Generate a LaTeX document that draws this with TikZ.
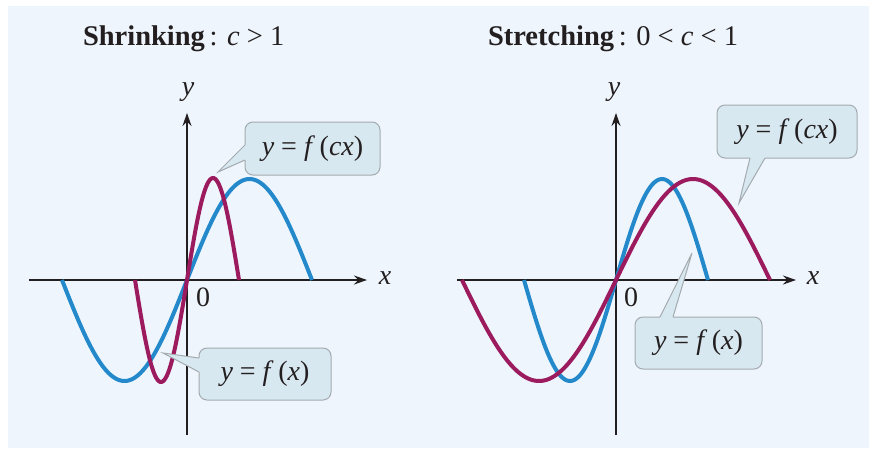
\documentclass[tikz,border=0pt]{standalone}
\usepackage{fontspec}
\setmainfont{Liberation Serif}
\usetikzlibrary{arrows.meta,calc}
\definecolor{bgc}{HTML}{EEF5FC}
\definecolor{cblue}{HTML}{2389CB}
\definecolor{cpurp}{HTML}{9C1A5E}
\definecolor{calfill}{HTML}{D8E8F0}
\definecolor{calline}{HTML}{A3ABAF}
\definecolor{axc}{HTML}{231F20}
\begin{document}
\begin{tikzpicture}[x=1pt,y=-1pt,
  every node/.style={text=axc, inner sep=0pt, outer sep=0pt},
  font=\fontsize{28}{33}\selectfont,
  curveb/.style={cblue, line width=4pt},
  curvep/.style={cpurp, line width=4pt},
  axisline/.style={axc, line width=1.3pt},
  axisarrow/.style={axisline, -{Stealth[length=13pt,width=9pt]}},
  callout/.style={draw=calline, fill=calfill, rounded corners=8pt, line width=1pt},
  ptrline/.style={calline, line width=1pt, line join=miter},
  titletext/.style={anchor=base west, font=\fontsize{28.5}{33}\selectfont}]
\useasboundingbox (0,0) rectangle (872,451);
\fill[bgc] (8,6) rectangle (869,448);

% ---------- titles
\node[titletext] (t1) at (83,45) {\textbf{Shrinking}\,: \textit{c} > 1};
\node[titletext] (t2) at (488,45) {\textbf{Stretching}\,: 0 < \textit{c} < 1};

% ---------- left panel
\coordinate (Lxs) at (29,280);
\coordinate (Lxe) at (367,280);
\coordinate (Lys) at (187,435);
\coordinate (Lye) at (187,113);
\draw[axisarrow] (Lxs) -- (Lxe);
\draw[axisarrow] (Lys) -- (Lye);
\node (Lx) at (385,278) {\textit{x}};
\node (Ly) at (188,92) {\textit{y}};
\node (Lz) at (203,297) {0};
\draw[curveb] plot[domain=-125:125, samples=120, smooth] ({187+\x},{280-101*sin(1.44*\x)});
\draw[curvep] plot[domain=-52:52, samples=80, smooth] ({187+\x},{280-102*sin(3.4615*\x)});

\node[callout, minimum width=135pt, minimum height=53pt] (Lc) at (312.5,148.5)
  {\textit{y} = \textit{f}\,(\textit{cx})};
\coordinate (Lct) at (218,172);
\coordinate (Lcb1) at ($(Lc.west)+(0,-3.5)$);
\coordinate (Lcb2) at ($(Lc.west)+(0,11.5)$);
\fill[calfill] ($(Lcb1)+(2,0)$) -- (Lcb1) -- (Lct) -- (Lcb2) -- ($(Lcb2)+(2,0)$) -- cycle;
\draw[ptrline] (Lcb1) -- (Lct) -- (Lcb2);

\node[callout, minimum width=132pt, minimum height=52pt] (Lf) at (265,374)
  {\textit{y} = \textit{f}\,(\textit{x})};
\coordinate (Lft) at (163,353);
\coordinate (Lfb1) at ($(Lf.west)+(0,-16)$);
\coordinate (Lfb2) at ($(Lf.west)+(0,-2)$);
\fill[calfill] ($(Lfb1)+(2,0)$) -- (Lfb1) -- (Lft) -- (Lfb2) -- ($(Lfb2)+(2,0)$) -- cycle;
\draw[ptrline] (Lfb1) -- (Lft) -- (Lfb2);

% ---------- right panel
\coordinate (Rxs) at (457,280);
\coordinate (Rxe) at (796,280);
\coordinate (Rys) at (616,435);
\coordinate (Rye) at (616,113);
\draw[axisarrow] (Rxs) -- (Rxe);
\draw[axisarrow] (Rys) -- (Rye);
\node (Rx) at (813,278) {\textit{x}};
\node (Ry) at (614,92) {\textit{y}};
\node (Rz) at (631,297) {0};
\draw[curveb] plot[domain=-92:92, samples=100, smooth] ({616+\x},{280-101*sin(1.9565*\x)});
\draw[curvep] plot[domain=-154:154, samples=140, smooth] ({616+\x},{280-101*sin(1.16883*\x)});

\node[callout, minimum width=140pt, minimum height=53pt] (Rc) at (787,131.5)
  {\textit{y} = \textit{f}\,(\textit{cx})};
\coordinate (Rct) at (739,203);
\coordinate (Rcb1) at ($(Rc.south)+(-37,0)$);
\coordinate (Rcb2) at ($(Rc.south)+(-22,0)$);
\fill[calfill] ($(Rcb1)+(0,-2)$) -- (Rcb1) -- (Rct) -- (Rcb2) -- ($(Rcb2)+(0,-2)$) -- cycle;
\draw[ptrline] (Rcb1) -- (Rct) -- (Rcb2);

\node[callout, minimum width=127pt, minimum height=52pt] (Rf) at (698.5,343)
  {\textit{y} = \textit{f}\,(\textit{x})};
\coordinate (Rft) at (692,253);
\coordinate (Rfb1) at ($(Rf.north)+(-38.5,0)$);
\coordinate (Rfb2) at ($(Rf.north)+(-25.5,0)$);
\fill[calfill] ($(Rfb1)+(0,2)$) -- (Rfb1) -- (Rft) -- (Rfb2) -- ($(Rfb2)+(0,2)$) -- cycle;
\draw[ptrline] (Rfb1) -- (Rft) -- (Rfb2);
\end{tikzpicture}
\end{document}
